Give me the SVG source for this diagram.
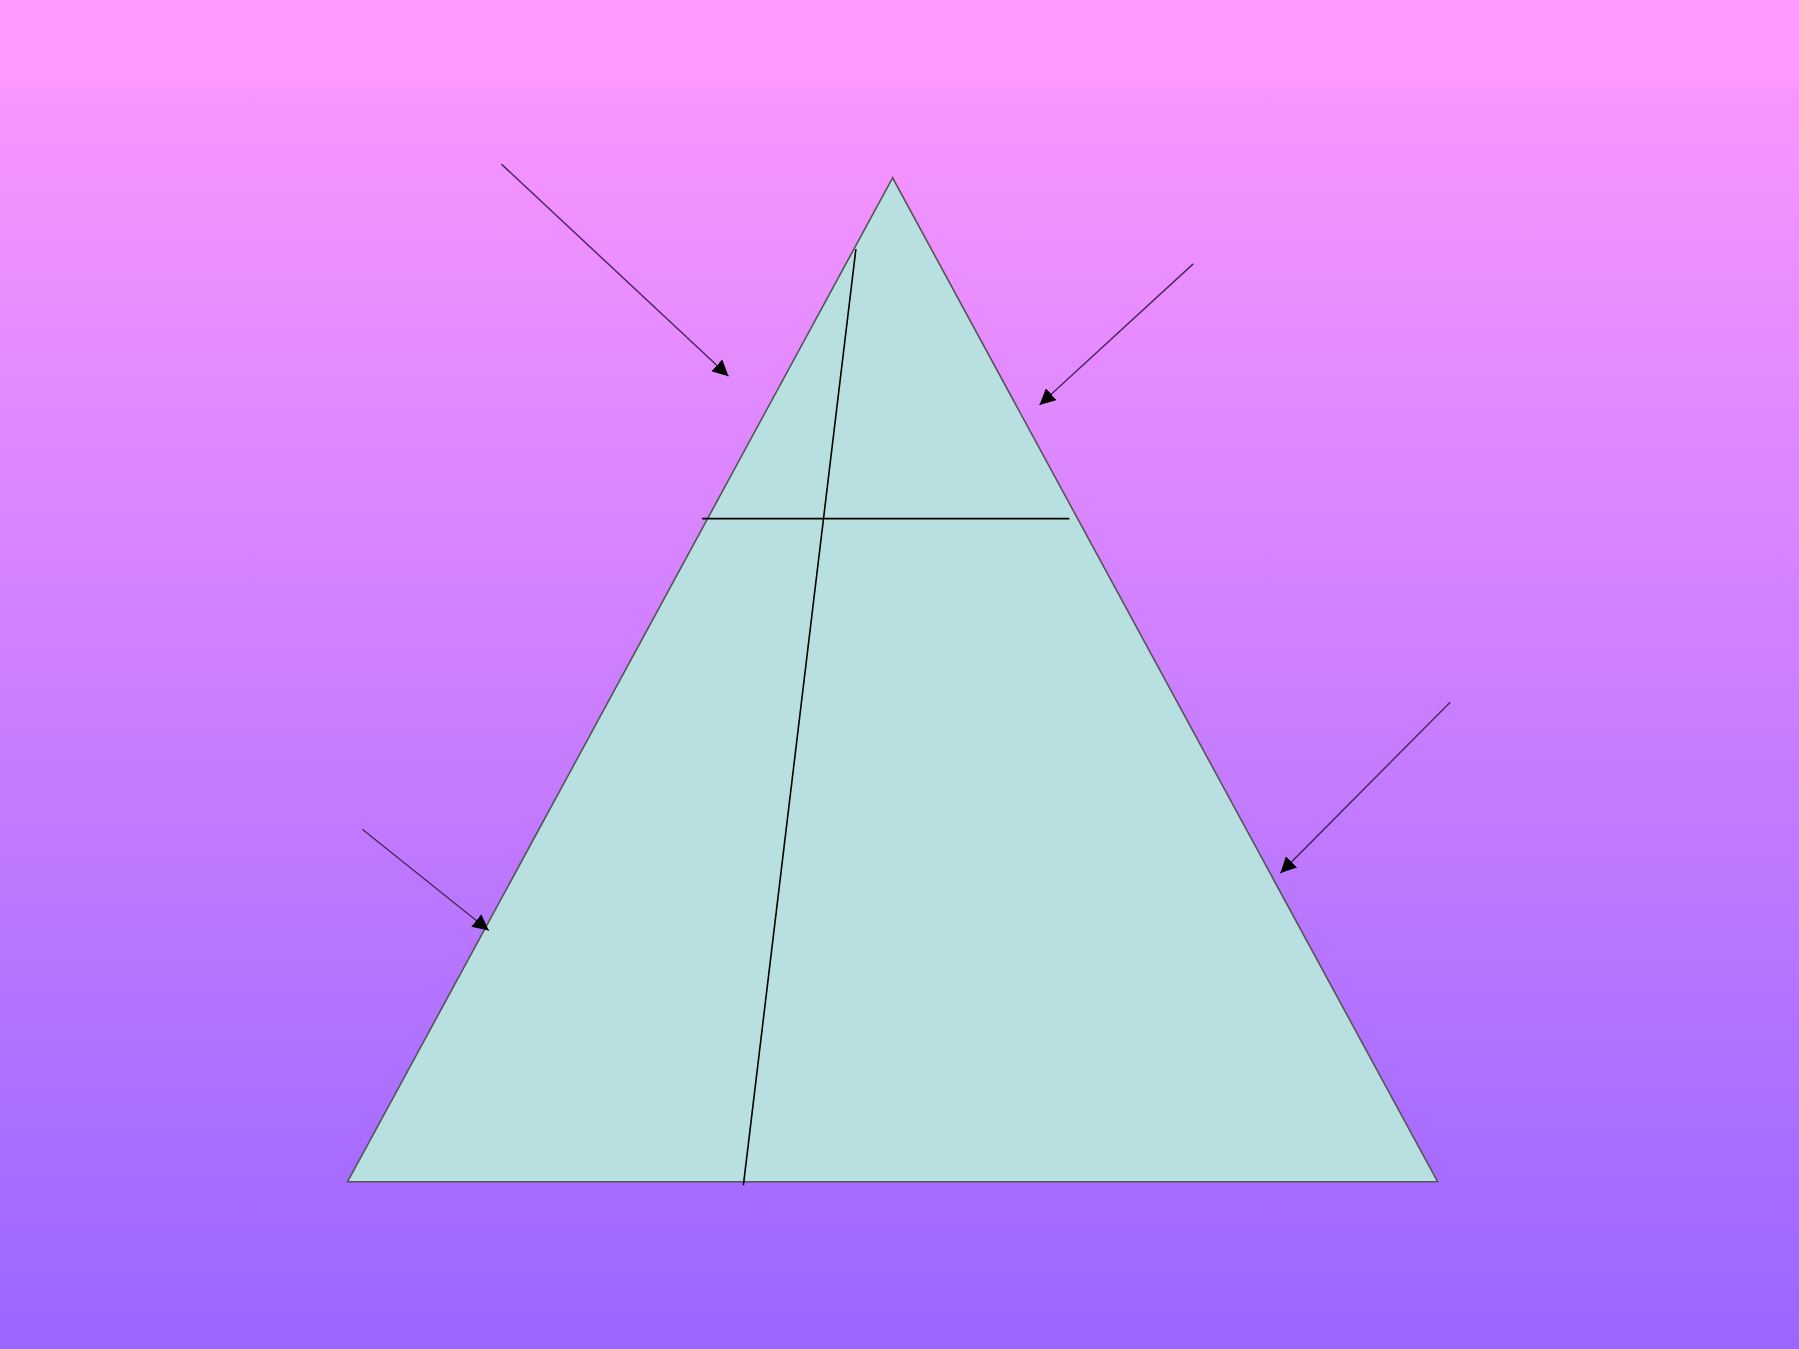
<svg xmlns="http://www.w3.org/2000/svg" width="1799" height="1349" viewBox="0 0 1799 1349">
<defs>
<linearGradient id="bg" x1="0" y1="0" x2="0" y2="1">
<stop offset="0" stop-color="#ff99ff"/>
<stop offset="0.064" stop-color="#ff99ff"/>
<stop offset="0.066" stop-color="#f995ff"/>
<stop offset="1" stop-color="#9966ff"/>
</linearGradient>
<marker id="ah" viewBox="0 0 10 10" refX="10" refY="5" markerWidth="16" markerHeight="16" markerUnits="userSpaceOnUse" orient="auto">
<path d="M0,0 L10,5 L0,10 Z" fill="#000"/>
</marker>
<style>
.tri{fill:#b8e0e0;stroke:#555;stroke-width:1.6}
.inner{stroke:#000;stroke-width:1.6;fill:none}
.arr{stroke:#4d2a5c;stroke-width:1.5;fill:none;marker-end:url(#ah)}
</style>
</defs>
<rect x="0" y="0" width="1799" height="1349" fill="url(#bg)"/>
<g id="triangle">
<polygon class="tri" points="892.6,177.8 347.6,1181.7 1437.6,1181.7"/>
</g>
<g id="inner-lines">
<line class="inner" x1="855.9" y1="249" x2="743.4" y2="1185.2"/>
<line class="inner" x1="702.2" y1="518.6" x2="1069.3" y2="518.6"/>
</g>
<g id="connectors">
<line class="arr" x1="501.4" y1="164.1" x2="728.5" y2="376.3"/>
<line class="arr" x1="1193.2" y1="263.9" x2="1039.5" y2="405"/>
<line class="arr" x1="1450.2" y1="702.2" x2="1280.4" y2="873.1"/>
<line class="arr" x1="362.6" y1="829.5" x2="488.8" y2="930.5"/>
</g>
</svg>
